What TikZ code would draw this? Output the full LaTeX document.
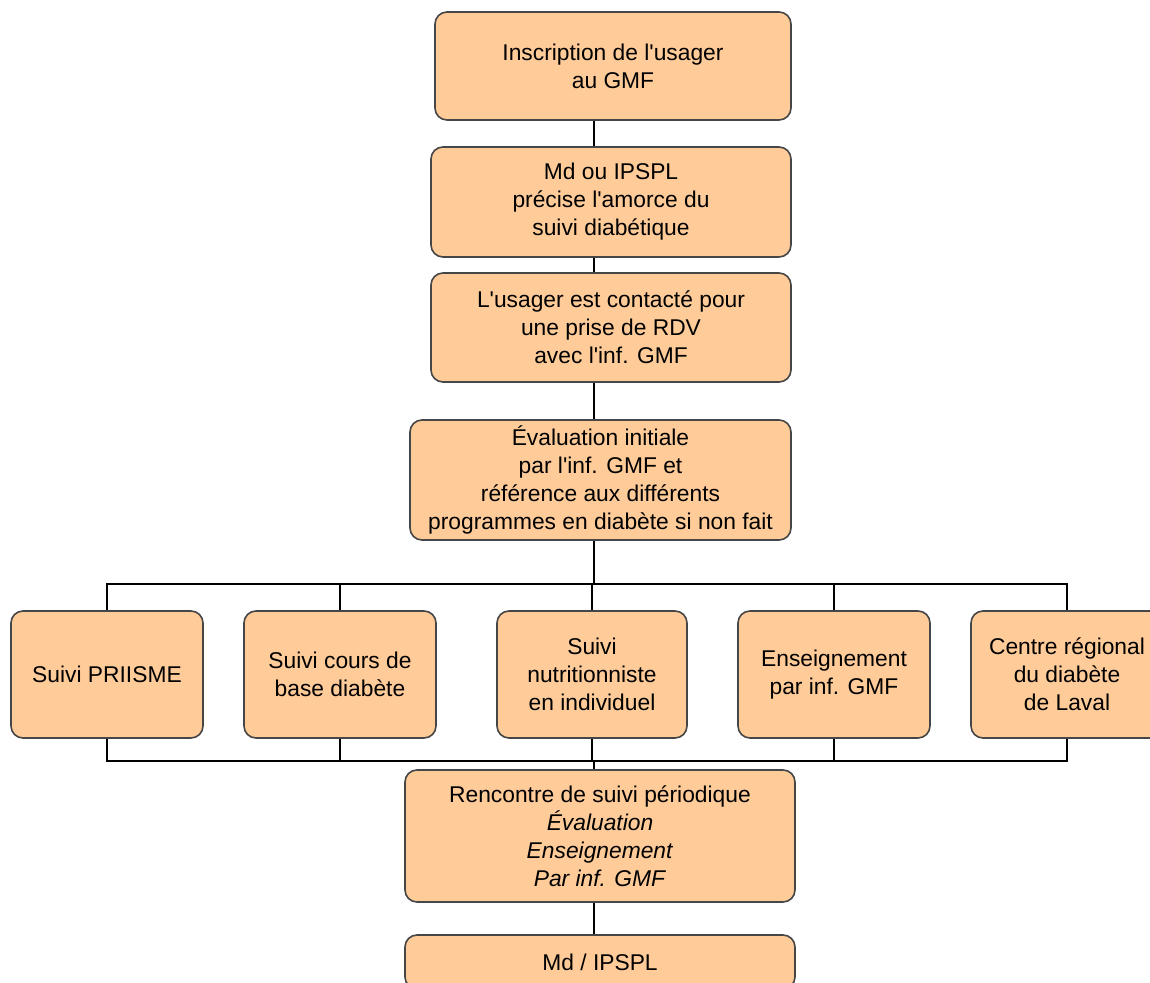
\documentclass[tikz,border=0pt]{standalone}
\usepackage{fontspec}
\setmainfont{Liberation Sans}
\usepackage{tikz}
\usetikzlibrary{positioning}
\definecolor{boxFill}{RGB}{255,204,153}
\definecolor{boxLine}{RGB}{70,70,70}
\newcommand{\apos}{\textquotesingle}

\begin{document}
\begin{tikzpicture}[x=0.5pt,y=-0.5pt]

            \tikzstyle{stepBox} = [draw=boxLine, line width=0.8pt, fill=boxFill, rounded corners=6pt, align=center, inner sep=2pt, font=\fontsize{11.4}{14}\selectfont];
            \tikzstyle{link} = [line width=0.7pt, black];

            \useasboundingbox (0,0) rectangle (1150,983);
            \clip (0,0) rectangle (1150,983);
            \fill[white] (0,0) rectangle (1150,983);

            \coordinate (spine) at (594,0);

            \node[stepBox, minimum width=178pt, minimum height=54pt] (ins) at (613,66) {Inscription de l\apos usager\\au GMF};
            \node[stepBox, minimum width=180pt, minimum height=55pt] (amorce) at (611,202) {Md ou IPSPL\\précise l\apos amorce du\\suivi diabétique};
            \node[stepBox, minimum width=180pt, minimum height=54.5pt] (contact) at (611,327.5) {L\apos usager est contacté pour\\une prise de RDV\\avec l\apos inf. GMF};
            \node[stepBox, minimum width=190.5pt, minimum height=60pt] (eval) at (600.5,480) {Évaluation initiale\\par l\apos inf. GMF et\\référence aux différents\\programmes en diabète si non fait};

            \node[stepBox, minimum width=96pt, minimum height=63.5pt] (priisme) at (107,674.5) {Suivi PRIISME};
            \node[stepBox, minimum width=96pt, minimum height=63.5pt] (cours) at (340,674.5) {Suivi cours de\\base diabète};
            \node[stepBox, minimum width=95pt, minimum height=63.5pt] (nutri) at (592,674.5) {Suivi\\nutritionniste\\en individuel};
            \node[stepBox, minimum width=96pt, minimum height=63.5pt] (ens) at (834,674.5) {Enseignement\\par inf. GMF};
            \node[stepBox, minimum width=96pt, minimum height=63.5pt] (centre) at (1067,674.5) {Centre régional\\du diabète\\de Laval};

            \node[stepBox, minimum width=195pt, minimum height=66pt] (suivi) at (600,836) {Rencontre de suivi périodique\\\textit{Évaluation}\\\textit{Enseignement}\\\textit{Par inf. GMF}};
            \node[stepBox, minimum width=195pt, minimum height=27pt] (md) at (600,962) {Md / IPSPL};

            \coordinate (busTop) at (594,584);
            \coordinate (busLow) at (594,761);

            \draw[link] (ins.south -| spine) -- (amorce.north -| spine);
            \draw[link] (amorce.south -| spine) -- (contact.north -| spine);
            \draw[link] (contact.south -| spine) -- (eval.north -| spine);
            \draw[link] (eval.south -| spine) -- (busTop);

            \draw[link] (priisme.north) -- (busTop -| priisme.north) -- (busTop -| centre.north) -- (centre.north);
            \draw[link] (busTop -| cours.north) -- (cours.north);
            \draw[link] (busTop -| nutri.north) -- (nutri.north);
            \draw[link] (busTop -| ens.north) -- (ens.north);

            \draw[link] (priisme.south) -- (busLow -| priisme.south) -- (busLow -| centre.south) -- (centre.south);
            \draw[link] (busLow -| cours.south) -- (cours.south);
            \draw[link] (busLow -| nutri.south) -- (nutri.south);
            \draw[link] (busLow -| ens.south) -- (ens.south);

            \draw[link] (busLow) -- (suivi.north -| spine);
            \draw[link] (suivi.south -| spine) -- (md.north -| spine);
          \end{tikzpicture}
\end{document}
